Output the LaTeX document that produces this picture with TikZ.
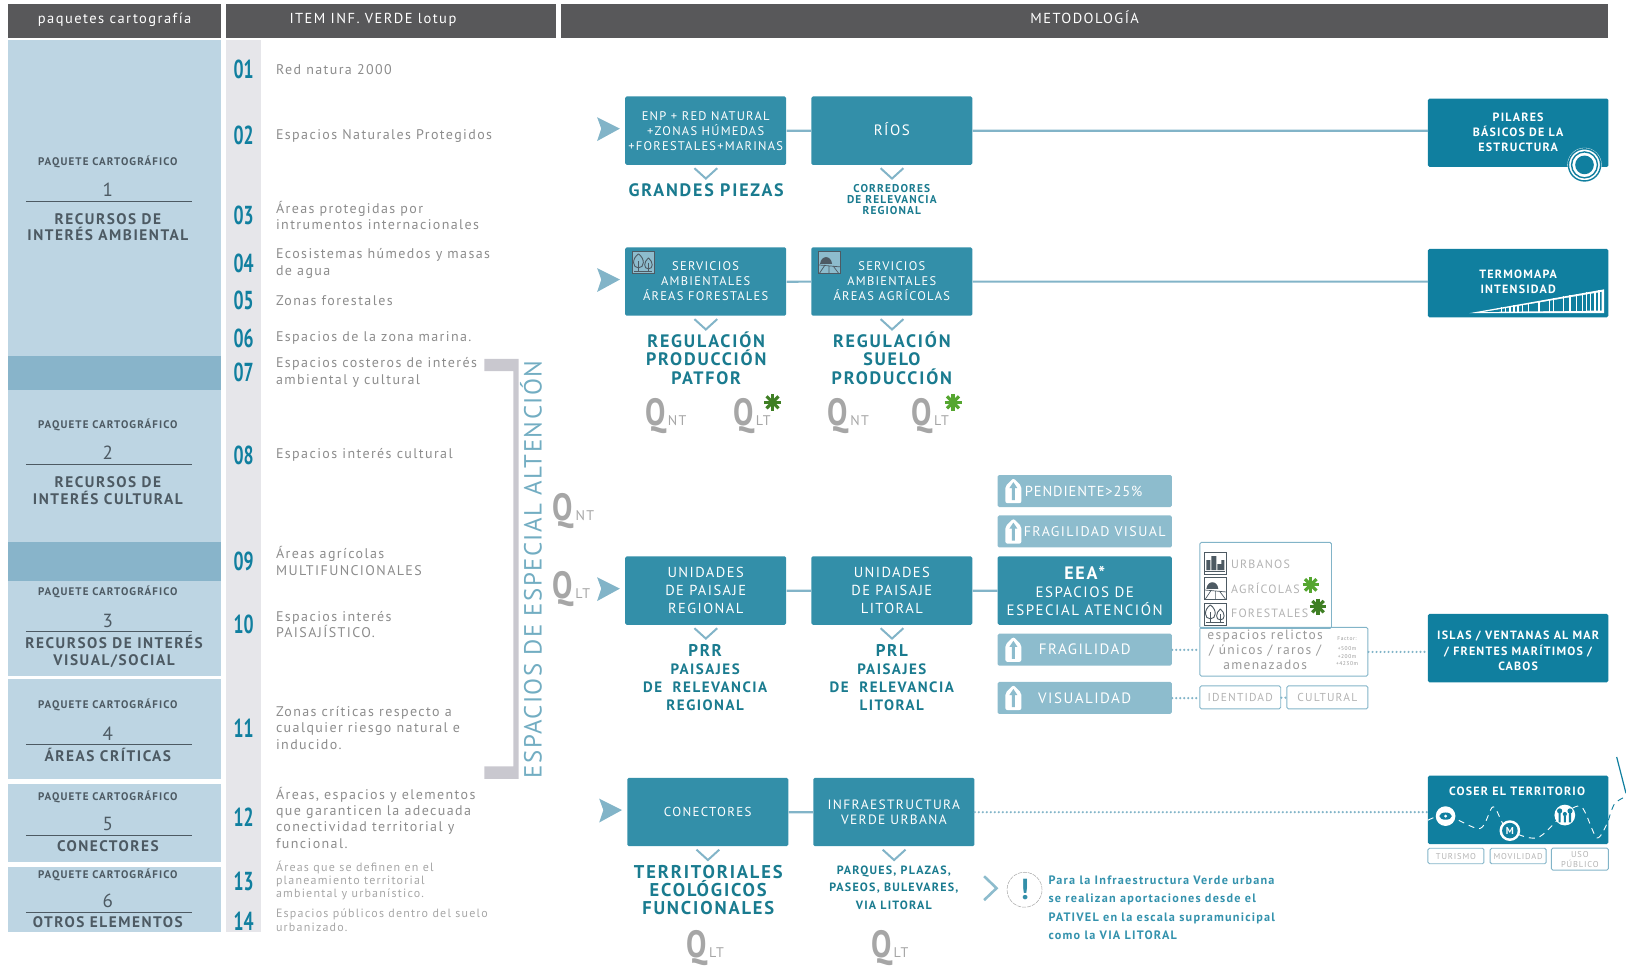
\documentclass[tikz,border=0pt]{standalone}
\usepackage{fontspec}
\setmainfont[LetterSpace=10]{PT Sans}
\newfontfamily\widefont[LetterSpace=6]{PT Sans}
\newfontfamily\numfont[FakeStretch=.68]{PT Sans}
\newfontfamily\qfont[FakeStretch=.8]{PT Sans}
\usetikzlibrary{arrows,shapes,positioning}

\definecolor{headgray}{HTML}{58585A}
\definecolor{paqlight}{HTML}{BDD5E3}
\definecolor{paqdark}{HTML}{88B4CA}
\definecolor{numgray}{HTML}{E6E6EA}
\definecolor{bracegray}{HTML}{C9C8CF}
\definecolor{boxteal}{HTML}{338FA9}
\definecolor{boxright}{HTML}{107F9F}
\definecolor{boxlight}{HTML}{8DBCCD}
\definecolor{linkblue}{HTML}{82B4C8}
\definecolor{titleteal}{HTML}{1A7B8F}
\definecolor{itemgray}{HTML}{8C8C8C}
\definecolor{paqtext}{HTML}{4D5A63}
\definecolor{stardark}{HTML}{3F7F24}
\definecolor{starlight}{HTML}{55A630}

\newcommand{\fsz}[2]{\fontsize{#1}{#2}\selectfont}
\newcommand{\qtext}[1]{{\qfont\bfseries\fsz{38}{38}Q}{\fsz{14}{14}\,#1}}

\tikzset{
    boxnode/.style={fill=boxteal, text=white, rounded corners=1.5pt, align=center, inner sep=0pt,
        minimum width=161pt, minimum height=68.4pt, font=\fsz{12.5}{15}},
    rightnode/.style={boxnode, fill=boxright, minimum width=180.4pt, font=\bfseries\fsz{12}{15}},
    lightnode/.style={boxnode, fill=boxlight, minimum width=174.2pt, minimum height=32pt, font=\fsz{15}{17}},
    outnode/.style={draw=linkblue, line width=.9pt, rounded corners=1.5pt, align=center, inner sep=0pt, text=black!30,
        minimum height=23pt, font=\fsz{11.5}{13}},
    headnode/.style={fill=headgray, text=white, minimum height=34pt, inner sep=0pt, text height=10pt, text depth=5pt, font=\fsz{14.5}{16}},
    labelnode/.style={align=center, inner sep=0pt, text=titleteal, font=\bfseries\fsz{18}{18.3}},
    itemnode/.style={anchor=west, align=left, inner sep=0pt, text=itemgray, font=\fsz{14}{16.4}},
    qnode/.style={inner sep=0pt, text=black!35},
    conline/.style={draw=linkblue, line width=2.2pt},
    dotline/.style={draw=linkblue, line width=2.4pt, line cap=round, dash pattern=on 0pt off 4pt},
    pics/starpic/.style={code={\foreach \a in {0,45,90,135}
        \draw[#1, line width=3.1pt] (\a:-8.5) -- (\a:8.5);}},
    pics/forestpic/.style={code={
        \draw[paqtext, fill=#1, line width=.8pt] (-11,-11) rectangle (11,11);
        \draw[paqtext, line width=.9pt] (-5,9) -- (-5,-2) (5,9) -- (5,0) (-9,9) -- (9,9);
        \draw[paqtext, line width=.9pt] (-5,-9) .. controls (-12,-4) and (-11,5) .. (-5,5) .. controls (1,5) and (2,-4) .. (-5,-9);
        \draw[paqtext, line width=.9pt] (5,-5) .. controls (0,-1) and (0,6) .. (5,6) .. controls (10,6) and (10,-1) .. (5,-5);}},
    pics/farmpic/.style={code={
        \draw[paqtext, fill=#1, line width=.8pt] (-11,-11) rectangle (11,11);
        \fill[paqtext] (-9,1) .. controls (-8,-8) and (2,-8) .. (3,1) -- cycle;
        \draw[paqtext, line width=.7pt] (-11,2) -- (11,4) (-4,2) -- (-10,11) (0,3) -- (0,11) (4,3) -- (10,11);}},
    pics/citypic/.style={code={
        \draw[paqtext, line width=.8pt] (-11,-11) rectangle (11,11);
        \fill[paqtext] (-9,7) rectangle (-5,-3) (-4,7) rectangle (1,-7) (2,7) rectangle (6,1) (6,7) rectangle (9,-3);
        \draw[paqtext, line width=.8pt] (-10,8) -- (10,8);}},
    pics/uparrow/.style={code={
        \fill[white, rounded corners=2pt] (-8,12) -- (-8,-5) -- (0,-13) -- (8,-5) -- (8,12) -- cycle;
        \fill[boxlight] (-1.5,9) -- (-1.5,-3) -- (-4,-3) -- (0,-9) -- (4,-3) -- (1.5,-3) -- (1.5,9) -- cycle;}}
}

\begin{document}
\begin{tikzpicture}[scale=1.037, x=1pt, y=-1pt]
    \useasboundingbox (0,0) rectangle (1568,932.5);
    % cabeceras
    \node[headnode, minimum width=212.6pt] (headpaq) at (110.5,20) {paquetes cartografía};
    \node[headnode, minimum width=330pt] (headitem) at (377,20) {\hspace{-36pt}ITEM INF. VERDE lotup};
    \node[headnode, minimum width=1047pt] (headmet) at (1046,20) {METODOLOGÍA};
    % bandas de paquetes
    \foreach \ya/\yb in {39/343,376/523,560/652,655/751,756/831,836/899}
        \fill[paqlight] (8,\ya) rectangle (213,\yb);
    \foreach \ya/\yb in {343/376,523/560}
        \fill[paqdark] (8,\ya) rectangle (213,\yb);
    \fill[numgray] (218,39) rectangle (252,899);
    % paquetes
    \foreach \n/\xc/\ya/\yb/\yr/\yc/\txt in {1/104/156/183/194/219/{RECURSOS DE\\INTERÉS AMBIENTAL},
        2/104/410/437/448/473/{RECURSOS DE\\INTERÉS CULTURAL},
        3/110/571/599/609/628/{RECURSOS DE INTERÉS\\VISUAL/SOCIAL},
        4/104/680/708/718/728/{ÁREAS CRÍTICAS},
        5/104/768/795/806/816/{CONECTORES},
        6/104/844/869/880/889/{OTROS ELEMENTOS}} {
        \node[inner sep=0pt, text=paqtext, font=\bfseries\fsz{11}{12}] (paqa\n) at (104,\ya) {PAQUETE CARTOGRÁFICO};
        \node[inner sep=0pt, text=paqtext, font=\fsz{19}{20}] (paqb\n) at (104,\yb) {\n};
        \draw[paqtext, line width=.7pt] (25,\yr) -- (185,\yr);
        \node[inner sep=0pt, align=center, text=paqtext, font=\bfseries\fsz{15.3}{16.6}] (paqc\n) at (\xc,\yc) {\txt};
    }
    % items
    \foreach \n/\y/\txt in {01/67/{Red natura 2000},
        02/131/{Espacios Naturales Protegidos},
        03/208/{Áreas protegidas por\\intrumentos internacionales},
        04/254/{Ecosistemas húmedos y masas\\de agua},
        05/290/{Zonas forestales},
        06/326/{Espacios de la zona marina.},
        07/359/{Espacios costeros de interés\\ambiental y cultural},
        08/439/{Espacios interés cultural},
        09/541/{Áreas agrícolas\\MULTIFUNCIONALES},
        10/602/{Espacios interés\\PAISAJÍSTICO.},
        11/702/{Zonas críticas respecto a\\cualquier riesgo natural e\\inducido.},
        12/788.5/{Áreas, espacios y elementos\\que garanticen la adecuada\\conectividad territorial y\\funcional.}} {
        \node[inner sep=0pt, text=boxright, font=\numfont\bfseries\fsz{26}{26}] (num\n) at (235,\y) {\n};
        \node[itemnode] (item\n) at (266,\y) {\txt};
    }
    \node[inner sep=0pt, text=boxright, font=\numfont\bfseries\fsz{26}{26}] (num13) at (235,850) {13};
    \node[inner sep=0pt, text=boxright, font=\numfont\bfseries\fsz{26}{26}] (num14) at (235,888) {14};
    \node[itemnode, text=black!35, font=\fsz{12}{13.4}] (item13) at (266,849) {Áreas que se definen en el\\planeamiento territorial\\ambiental y urbanístico.};
    \node[itemnode, text=black!35, font=\fsz{12}{13.4}] (item14) at (266,887.5) {Espacios públicos dentro del suelo\\urbanizado.};
    % corchete
    \fill[bracegray] (467,346) -- (500,346) -- (500,751) -- (467,751) -- (467,739) -- (495,739) -- (495,358) -- (467,358) -- cycle;
    \node[rotate=90, inner sep=0pt, text=linkblue!80!boxteal, font=\widefont\fsz{24.8}{26}] (atencion) at (512,549) {ESPACIOS DE ESPECIAL ALTENCIÓN};
    \node[qnode] (qnt) at (553,493) {\qtext{NT}};
    \node[qnode] (qlt) at (551,568) {\qtext{LT}};
    % fila 1
    \node[boxnode] (enp) at (680.5,126) {\raisebox{1.5pt}{\parbox{155pt}{\centering ENP + RED NATURAL\\+ZONAS HÚMEDAS\\+FORESTALES+MARINAS}}};
    \node[boxnode] (rios) at (860,126) {\raisebox{4pt}{\fsz{15}{15}RÍOS}};
    \node[rightnode] (pilares) at (1464,128) {\raisebox{1pt}{\parbox{120pt}{\centering PILARES\\BÁSICOS DE LA\\ESTRUCTURA}}};
    \node[labelnode] (piezas) at (681,183) {GRANDES PIEZAS};
    \node[labelnode, font=\bfseries\fsz{11.3}{11}] (corredores) at (860,192) {CORREDORES\\DE RELEVANCIA\\REGIONAL};
    % fila 2
    \node[boxnode] (forest) at (680.5,271.5) {SERVICIOS\\AMBIENTALES\\ÁREAS FORESTALES};
    \node[boxnode] (agri) at (860,271.5) {SERVICIOS\\AMBIENTALES\\ÁREAS AGRÍCOLAS};
    \node[rightnode] (termo) at (1464,273) {\raisebox{11pt}{\parbox{120pt}{\centering TERMOMAPA\\INTENSIDAD}}};
    \node[labelnode] (regforest) at (681,345.5) {REGULACIÓN\\PRODUCCIÓN\\PATFOR};
    \node[labelnode] (regagri) at (860,345.5) {REGULACIÓN\\SUELO\\PRODUCCIÓN};
    \node[qnode] (qa) at (642,401) {\qtext{NT}};
    \node[qnode] (qb) at (725,401) {\qtext{LT}};
    \node[qnode] (qc) at (818,401) {\qtext{NT}};
    \node[qnode] (qd) at (897,401) {\qtext{LT}};
    \pic at (745,388) {starpic=stardark};
    \pic at (919,388) {starpic=starlight};
    \pic at (620.5,253.5) {forestpic=boxlight};
    \pic at (799.5,253.5) {farmpic=boxlight};
    % fila 3
    \node[boxnode, font=\fsz{14.5}{18}] (uniregion) at (680.5,569.5) {UNIDADES\\DE PAISAJE\\REGIONAL};
    \node[boxnode, font=\fsz{14.5}{18}] (unilitoral) at (860,569.5) {UNIDADES\\DE PAISAJE\\LITORAL};
    \node[boxnode, minimum width=174.2pt, font=\fsz{15}{18}] (eea) at (1046,569.5) {{\bfseries\fsz{18}{18}EEA*}\\ESPACIOS DE\\ESPECIAL ATENCIÓN};
    \node[lightnode, font=\widefont\fsz{14.5}{17}] (pendiente) at (1046,473.5) {\hspace{-2pt}PENDIENTE>25\%};
    \node[lightnode] (fragvisual) at (1046,512.5) {\hspace{20pt}\fsz{14}{16}FRAGILIDAD VISUAL};
    \node[lightnode] (fragil) at (1046,626.5) {FRAGILIDAD};
    \node[lightnode] (visual) at (1046,673) {VISUALIDAD};
    \foreach \b in {pendiente,fragvisual,fragil,visual}
        \pic at ([xshift=-69pt]\b.center) {uparrow};
    \node[labelnode, font=\bfseries\fsz{17}{17}] (prr) at (680,627) {PRR};
    \node[labelnode, font=\bfseries\fsz{15}{18}] (prrtxt) at (680,663) {PAISAJES\\DE \ RELEVANCIA\\REGIONAL};
    \node[labelnode, font=\bfseries\fsz{17}{17}] (prl) at (860,627) {PRL};
    \node[labelnode, font=\bfseries\fsz{15}{18}] (prltxt) at (860,663) {PAISAJES\\DE \ RELEVANCIA\\LITORAL};
    \node[rightnode] (islas) at (1464,625) {};
    \node[inner sep=0pt, align=center, text=white, font=\bfseries\fsz{12}{15.5}] (islastxt) at (1464,628) {ISLAS / VENTANAS AL MAR\\/ FRENTES MARÍTIMOS /\\CABOS};
    % cajas de la fila 3
    \node[outnode, minimum width=131.7pt, minimum height=86pt] (tipos) at (1220.5,564.5) {};
    \node[outnode, minimum width=168pt, minimum height=48.7pt] (relictos) at (1238,628.5) {};
    \node[inner sep=0pt, align=center, text=black!40, font=\fsz{13.5}{14.8}] (relictxt) at (1220,626.5) {espacios relictos\\/ únicos / raros /\\amenazados};
    \node[inner sep=0pt, align=center, text=black!40, font=\fsz{5.5}{7.4}] (factor) at (1299,628) {Factor:\\[3pt]+500m\\+200m\\+4230m};
    \node[outnode, minimum width=80.9pt] (identidad) at (1196,672.5) {IDENTIDAD};
    \node[outnode, minimum width=80.9pt] (cultural) at (1280,672.5) {CULTURAL};
    \pic at (1172,543) {citypic};
    \pic at (1172,567) {farmpic=white};
    \pic at (1172,592) {forestpic=white};
    \node[inner sep=0pt, anchor=west, text=black!30, font=\fsz{12}{14}] (urbanos) at (1187,544) {URBANOS};
    \node[inner sep=0pt, anchor=west, text=black!30, font=\fsz{12}{14}] (agricolas) at (1187,567) {AGRÍCOLAS};
    \node[inner sep=0pt, anchor=west, text=black!30, font=\fsz{12}{14}] (forestales) at (1187,591) {FORESTALES};
    \pic[scale=.95] at (1264,564) {starpic=starlight};
    \pic[scale=.95] at (1271,585) {starpic=stardark};
    % fila 4
    \node[boxnode, font=\fsz{13}{15}] (conect) at (682.5,783) {CONECTORES};
    \node[boxnode, font=\fsz{13.5}{15}] (infra) at (862,783) {INFRAESTRUCTURA\\VERDE URBANA};
    \node[rightnode] (coser) at (1464,781) {};
    \node[inner sep=0pt, text=white, font=\bfseries\fsz{12}{14}] (cosertxt) at (1463,763) {COSER EL TERRITORIO};
    \node[labelnode, font=\bfseries\fsz{18.5}{18.2}] (territ) at (683,858) {TERRITORIALES\\ECOLÓGICOS\\FUNCIONALES};
    \node[labelnode, font=\bfseries\fsz{12}{17.8}] (parques) at (862,856) {PARQUES, PLAZAS,\\PASEOS, BULEVARES,\\VIA LITORAL};
    \node[qnode] (qe) at (680,914) {\qtext{LT}};
    \node[qnode] (qf) at (858,914) {\qtext{LT}};
    \node[inner sep=0pt, anchor=west, align=left, text=boxright!85!white, font=\bfseries\fsz{12.2}{18.3}] (nota) at (1011,875.5) {Para la Infraestructura Verde urbana\\se realizan aportaciones desde el\\PATIVEL en la escala supramunicipal\\como la VIA LITORAL};
    \node[circle, draw=black!35, dash pattern=on 4pt off 1pt, line width=.5pt, minimum size=35pt, inner sep=0pt, text=boxteal, font=\bfseries\fsz{29}{29}] (aviso) at (988,858) {!};
    \draw[boxlight, line width=2.6pt] (949,845) -- (961,856.5) -- (949,868);
    \node[outnode, minimum width=56pt, minimum height=15.5pt, font=\fsz{8.5}{10}] (turismo) at (1404,825.5) {TURISMO};
    \node[outnode, minimum width=56pt, minimum height=15.5pt, font=\fsz{8.5}{10}] (movil) at (1464,825.5) {MOVILIDAD};
    \node[outnode, minimum width=57pt, minimum height=22pt, font=\fsz{8.5}{10}] (uso) at (1523.5,828.5) {USO\\PÚBLICO};
    % conectores
    \draw[conline] (enp) -- (rios);
    \draw[conline] (rios) -- (rios -| pilares.west);
    \draw[conline] (forest) -- (agri);
    \draw[conline] (agri) -- (agri -| termo.west);
    \draw[conline] (uniregion) -- (unilitoral);
    \draw[conline] (unilitoral) -- (eea);
    \draw[conline] (conect) -- (infra);
    \draw[dotline] (infra) -- (infra -| coser.west);
    \draw[dotline] (fragil) -- (fragil -| relictos.west);
    \draw[dotline] (relictos) -- (relictos -| islas.west);
    \draw[dotline] (visual) -- (visual -| identidad.west);
    \draw[dotline] (identidad) -- (cultural);
    % flechas y chevrones
    \foreach \b in {enp,forest,uniregion,conect}
        \fill[linkblue] ([shift={(-27,-13)}]\b.west) -- ([shift={(-5,-2)}]\b.west) -- ([shift={(-27,10)}]\b.west) -- ([shift={(-23,-2)}]\b.west) -- cycle;
    \foreach \b in {enp,rios,forest,agri,uniregion,unilitoral,conect,infra}
        \draw[linkblue, line width=2pt] ([shift={(-11,3)}]\b.south) -- ([shift={(0,13)}]\b.south) -- ([shift={(11,3)}]\b.south);
    % icono pilares
    \fill[white] (1528,159) circle (16.5);
    \draw[boxright, line width=1.4pt] (1528,159) circle (15.5);
    \draw[boxright, line width=1.4pt] (1528,159) circle (12.5);
    \fill[boxright] (1528,159) circle (9);
    % icono termomapa
    \fill[white] (1417,302) -- (1547,279) -- (1547,302) -- cycle;
    \fill[boxright] (1431,300.8) -- (1544.5,281.5) -- (1544.5,299.5) -- cycle;
    \foreach \x in {1448,1452,1456,1460,1464,1468,1474,1484,1494,1498,1508,1514,1520,1526,1530,1534,1538,1542}
        \draw[white, line width=1.4pt] (\x,302) -- (\x,{302-(\x-1417)*0.177});
    % hilo de coser
    \draw[white, line width=.9pt, dash pattern=on 6pt off 5pt] plot[smooth] coordinates {(1377,791) (1395,786) (1427,799) (1440,778) (1453,799) (1482,808) (1507,786) (1525,778) (1540,808) (1551,791)};
    \draw[boxright, line width=.9pt, dash pattern=on 6pt off 5pt] plot[smooth] coordinates {(1551,791) (1557,775) (1568,768)};
    \draw[boxright, line width=1.2pt] (1559,730) -- (1568,765);
    \fill[white] (1394,787) circle (9.5);
    \fill[boxright] (1394,787) ellipse (6 and 3.5);
    \fill[white] (1394,787) circle (1.5);
    \fill[white] (1456,801) circle (10);
    \fill[boxright] (1456,801) circle (7.5);
    \node[inner sep=0pt, text=white, font=\bfseries\fsz{10}{10}] (metro) at (1456,801) {M};
    \fill[white] (1509,786) circle (10);
    \fill[boxright] (1504,782) circle (2.5) (1514,782) circle (2.5) (1509,785) circle (2);
    \fill[boxright] (1503,784) rectangle (1505,793) (1513,784) rectangle (1515,793) (1508,787) rectangle (1510,793);
\end{tikzpicture}
\end{document}
